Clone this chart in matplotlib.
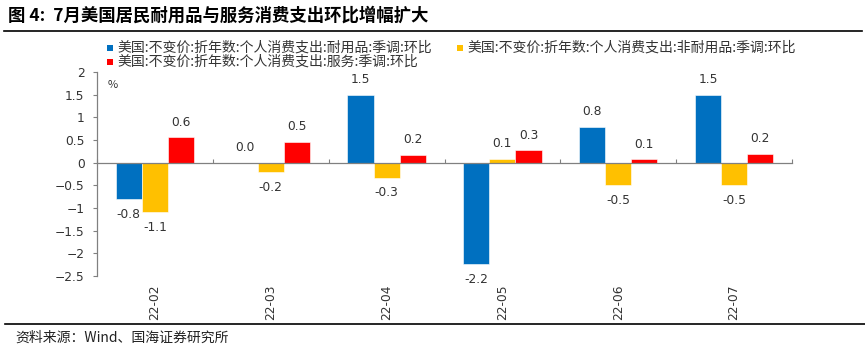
import numpy as np
import matplotlib
matplotlib.use('Agg')
import matplotlib.pyplot as plt
from matplotlib.patches import Rectangle
from matplotlib.lines import Line2D

plt.rcParams['font.family'] = ['Noto Sans CJK SC', 'DejaVu Sans']

# data
categories = ['22-02', '22-03', '22-04', '22-05', '22-06', '22-07']
durable = [-0.80, 0.0, 1.49, -2.24, 0.79, 1.49]
nondurable = [-1.09, -0.20, -0.33, 0.09, -0.50, -0.50]
services = [0.56, 0.46, 0.17, 0.27, 0.07, 0.20]
series_names = ['美国:不变价:折年数:个人消费支出:耐用品:季调:环比',
				'美国:不变价:折年数:个人消费支出:非耐用品:季调:环比',
				'美国:不变价:折年数:个人消费支出:服务:季调:环比']
colors = ['#0070C0', '#FFC000', '#FF0000']
yticks = [2, 1.5, 1, 0.5, 0, -0.5, -1, -1.5, -2, -2.5]
title = '图 4:  7月美国居民耐用品与服务消费支出环比增幅扩大'
source = '资料来源：Wind、国海证券研究所'

W, H = 865, 350
fig = plt.figure(figsize=(W / 100, H / 100), dpi=100)
ax = fig.add_axes([97 / W, 1 - 276 / H, (792 - 97) / W, (276 - 72) / H])

x = np.arange(len(categories))
bw = 0.225
txtc = '#333333'
for i, vals in enumerate([durable, nondurable, services]):
	xs = x + (i - 1) * bw
	ax.bar(xs, vals, width=bw, color=colors[i], edgecolor='white', linewidth=0.4)
	for xi, v in zip(xs, vals):
		off = 11 if v >= 0 else -11
		ax.annotate('%.1f' % v, (xi, v), xytext=(0, off), textcoords='offset points',
			ha='center', va='center', fontsize=8.8, color=txtc, family='DejaVu Sans')

ax.set_xlim(-0.5, len(categories) - 0.5)
ax.set_ylim(-2.5, 2)
ax.set_yticks(yticks)
ax.set_yticklabels([('%g' % t).replace('-', '\u2212') for t in yticks], fontsize=8.8,
	color=txtc, family='DejaVu Sans')
ax.tick_params(axis='y', direction='out', length=3, color='#808080', width=0.8, pad=6)

ax.spines['bottom'].set_position(('data', 0))
ax.spines['top'].set_visible(False)
ax.spines['right'].set_visible(False)
for s in ['bottom', 'left']:
	ax.spines[s].set_color('#808080')
	ax.spines[s].set_linewidth(0.9)
ax.set_xticks(np.arange(len(categories) + 1) - 0.5)
ax.set_xticklabels([])
ax.tick_params(axis='x', direction='in', length=3, color='#808080', width=0.8)

trans = ax.get_xaxis_transform()
for xi, c in zip(x, categories):
	ax.text(xi, -0.04, c, rotation=90, ha='center', va='top', fontsize=8.8,
		color=txtc, transform=trans, family='DejaVu Sans')

fig.text(113 / W, 1 - 85 / H, '%', fontsize=8, color=txtc, ha='center', va='center')

# legend, laid out by hand: (marker x, row y) in pixels
leg_pos = [(107, 48), (457, 48), (107, 62)]
for (px, py), name, c in zip(leg_pos, series_names, colors):
	fig.add_artist(Rectangle((px / W, 1 - (py + 3) / H), 6 / W, 6 / H,
		transform=fig.transFigure, facecolor=c, edgecolor='none'))
	fig.text((px + 10) / W, 1 - py / H, name, fontsize=10, color=txtc,
		ha='left', va='center')

fig.text(8 / W, 1 - 16 / H, title, fontsize=12.5, fontweight='bold', va='center', ha='left')
fig.add_artist(Line2D([4 / W, 862 / W], [1 - 31 / H, 1 - 31 / H], color='black', lw=1.2))
fig.add_artist(Line2D([5 / W, 1.0], [1 - 324 / H, 1 - 324 / H], color='black', lw=1.2))
fig.text(15 / W, 1 - 338 / H, source, fontsize=10, va='center', ha='left', color='#222222')

fig.savefig('out.png', dpi=100)
